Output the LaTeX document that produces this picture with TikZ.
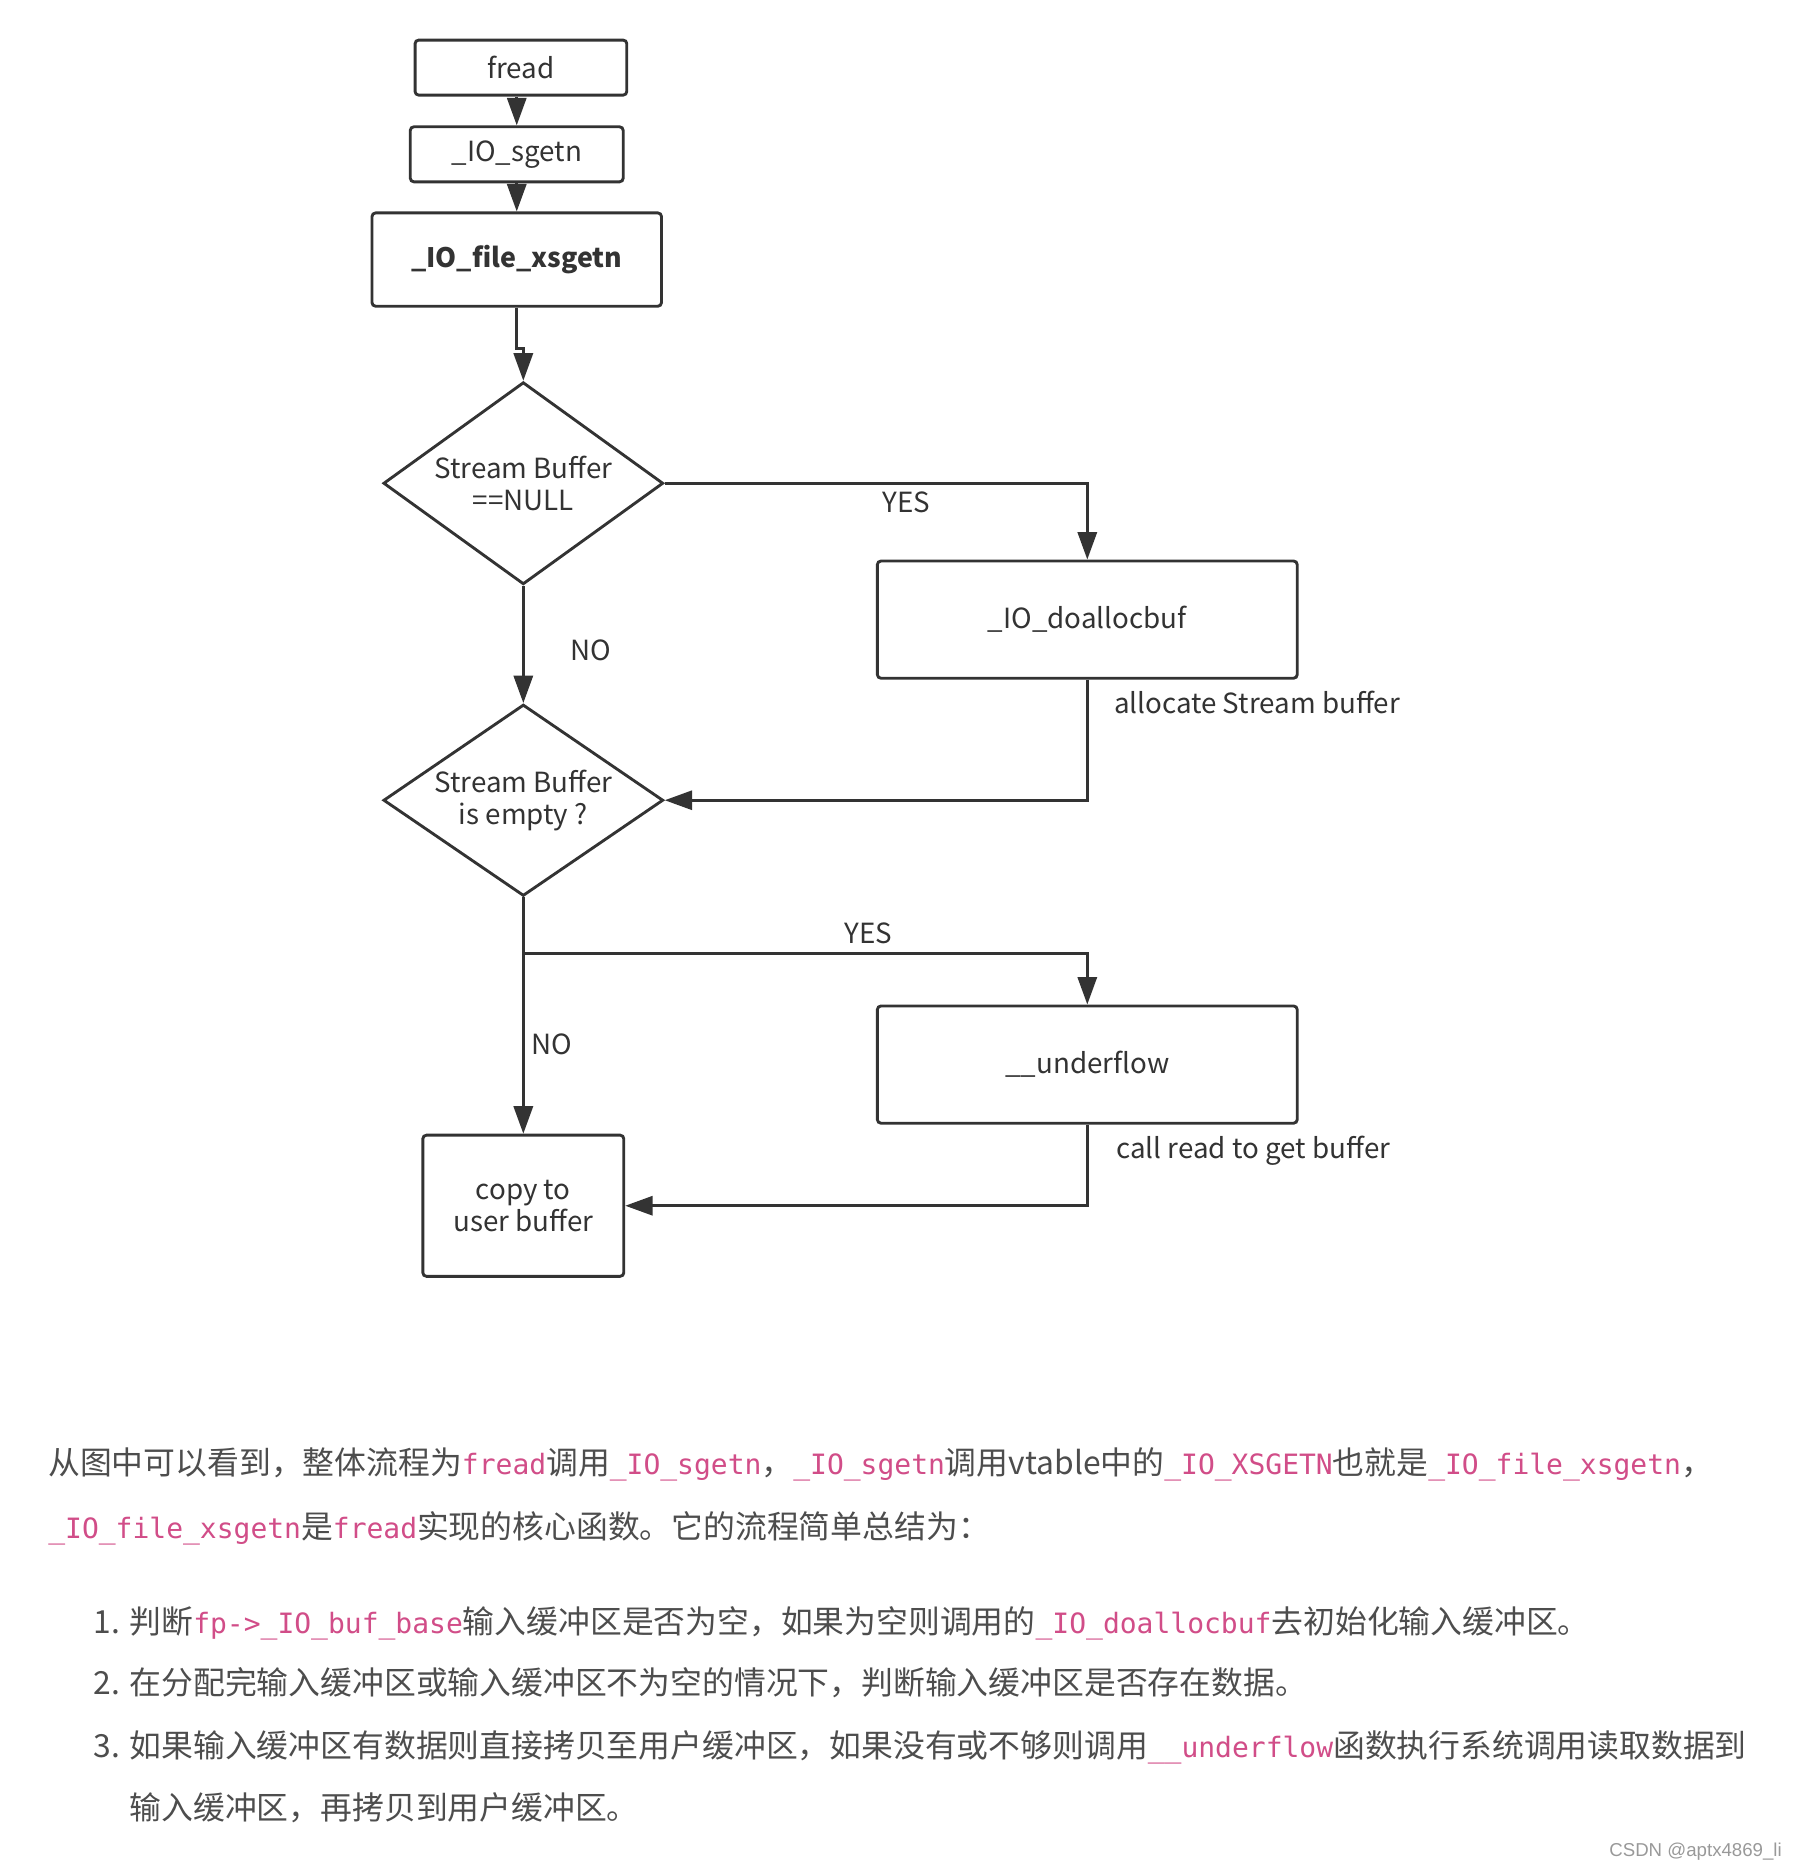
\documentclass[tikz,border=0pt]{standalone}
\usepackage{fontspec}
\setmainfont{Noto Sans CJK SC}
\setmonofont{DejaVu Sans Mono}
\newfontfamily\wmfont{Liberation Sans}
\usepackage{tikz}
\usetikzlibrary{positioning}
\usetikzlibrary{shapes.geometric}
\usetikzlibrary{arrows.meta}
\definecolor{linegray}{HTML}{333333}
\definecolor{textgray}{HTML}{4D4D4D}
\definecolor{codepink}{HTML}{D14D88}
\newcommand{\code}[1]{{\ttfamily\fontsize{11.7pt}{14pt}\selectfont\color{codepink}#1}}

\begin{document}
\begin{tikzpicture}[x=0.5pt, y=-0.5pt,
                          boxnode/.style={rectangle, draw=linegray, line width=1.2pt, rounded corners=1.5pt, inner sep=0pt, align=center, text=linegray, font=\fontsize{11.6pt}{13.5pt}\selectfont},
                          decisionnode/.style={diamond, draw=linegray, line width=1.2pt, aspect=1.38, inner sep=0pt, align=center, text=linegray, font=\fontsize{11.6pt}{13.5pt}\selectfont},
                          flowline/.style={draw=linegray, line width=1.2pt, -{Triangle[length=11.5pt, width=8pt]}},
                          notelabel/.style={inner sep=0pt, text=linegray, font=\fontsize{11.6pt}{13.5pt}\selectfont},
                          bodytext/.style={anchor=base west, inner sep=0pt, text=textgray, font=\fontsize{13.3pt}{16pt}\selectfont},
                      ]
                      \useasboundingbox (0,0) rectangle (1500,1560);
                      %Nodes
                      \node[boxnode, minimum width=88.5pt, minimum height=23pt]   (fread)     at (435.5,56.5)  {fread};
                      \node[boxnode, minimum width=89pt, minimum height=23pt]     (sgetn)     at (432,129)     {\_IO\_sgetn};
                      \node[boxnode, minimum width=121pt, minimum height=39pt, font=\bfseries\fontsize{11.2pt}{13.5pt}\selectfont] (xsgetn) at (432,217) {\_IO\_file\_xsgetn};
                      \node[decisionnode, minimum width=117pt, minimum height=84.5pt] (isnull)  at (437.5,404)   {Stream Buffer\\==NULL};
                      \node[boxnode, minimum width=175.5pt, minimum height=49pt]  (doalloc)   at (909,518)     {\_IO\_doallocbuf};
                      \node[decisionnode, minimum width=117pt, minimum height=80pt]   (isempty) at (437.5,669)   {Stream Buffer\\is empty ?};
                      \node[boxnode, minimum width=175.5pt, minimum height=49pt]  (underflow) at (909,890)     {\_\_underflow};
                      \node[boxnode, minimum width=84pt, minimum height=59pt]     (copyuser)  at (437.5,1008)  {copy to\\user buffer};
                      \coordinate (split) at (437.5,797);

                      %Labels
                      \node[notelabel]               (yesnull)   at (758,420)  {YES};
                      \node[notelabel]               (nonull)    at (494,544)  {NO};
                      \node[notelabel, anchor=west]  (alloctext) at (931,587)  {allocate Stream buffer};
                      \node[notelabel]               (yesempty)  at (726,780)  {YES};
                      \node[notelabel, anchor=west]  (noempty)   at (444,873)  {NO};
                      \node[notelabel, anchor=west]  (readtext)  at (933,962)  {call read to get buffer};

                      %Lines
                      \draw[flowline] (sgetn.north |- fread.south) -- (sgetn.north);
                      \draw[flowline] (sgetn.south) -- (xsgetn.north);
                      \draw[flowline] (xsgetn.south) -- ++(0,34) -| (isnull.north);
                      \draw[flowline] (isnull.east) -| (doalloc.north);
                      \draw[flowline] (isnull.south) -- (isempty.north);
                      \draw[flowline] (doalloc.south) |- (isempty.east);
                      \draw[flowline] (isempty.south) -- (copyuser.north);
                      \draw[flowline] (split) -| (underflow.north);
                      \draw[flowline] (underflow.south) |- (copyuser.east);

                      %Text
                      \node[bodytext] (para1) at (40,1233) {从图中可以看到，整体流程为\code{fread}调用\code{\_IO\_sgetn}，\code{\_IO\_sgetn}调用vtable中的\code{\_IO\_XSGETN}也就是\code{\_IO\_file\_xsgetn}，};
                      \node[bodytext] (para2) at (40,1286) {\code{\_IO\_file\_xsgetn}是\code{fread}实现的核心函数。它的流程简单总结为：};
                      \node[bodytext, anchor=base east] (num1) at (101,1366) {1.};
                      \node[bodytext] (item1) at (108,1366) {判断\code{fp->\_IO\_buf\_base}输入缓冲区是否为空，如果为空则调用的\code{\_IO\_doallocbuf}去初始化输入缓冲区。};
                      \node[bodytext, anchor=base east] (num2) at (101,1417) {2.};
                      \node[bodytext] (item2) at (108,1417) {在分配完输入缓冲区或输入缓冲区不为空的情况下，判断输入缓冲区是否存在数据。};
                      \node[bodytext, anchor=base east] (num3) at (101,1469) {3.};
                      \node[bodytext] (item3) at (108,1469) {如果输入缓冲区有数据则直接拷贝至用户缓冲区，如果没有或不够则调用\code{\_\_underflow}函数执行系统调用读取数据到};
                      \node[bodytext] (item3b) at (108,1521) {输入缓冲区，再拷贝到用户缓冲区。};
                      \node[anchor=east, inner sep=0pt, text=gray!80, font=\wmfont\fontsize{7.8pt}{10pt}\selectfont] (mark) at (1490,1548) {CSDN @aptx4869\_li};
                  \end{tikzpicture}
\end{document}
